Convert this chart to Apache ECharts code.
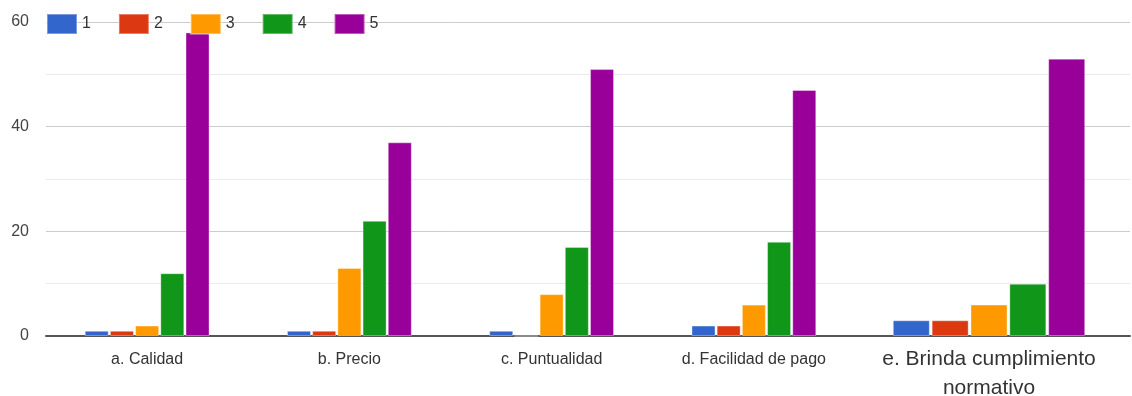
<!DOCTYPE html>
<html>
<head>
<meta charset="utf-8">
<script src="https://cdn.jsdelivr.net/npm/echarts@6/dist/echarts.min.js"></script>
<style>
  html, body { margin: 0; padding: 0; background: #fff; }
  #chart { width: 1132px; height: 396px; }
</style>
</head>
<body>
<div id="chart"></div>
<script>
// Survey ratings (1 = lowest, 5 = highest) for each supplier aspect
const categories = ['a. Calidad', 'b. Precio', 'c. Puntualidad', 'd. Facilidad de pago', 'e. Brinda cumplimiento normativo'];
const ratingNames = ['1', '2', '3', '4', '5'];
const rating1 = [1, 1, 1, 2, 3];
const rating2 = [1, 1, 0, 2, 3];
const rating3 = [2, 13, 8, 6, 6];
const rating4 = [12, 22, 17, 18, 10];
const rating5 = [58, 37, 51, 47, 53];
const yTicks = [0, 20, 40, 60];

const colors = ['#3366cc', '#dc3912', '#ff9900', '#109618', '#990099'];
const seriesValues = [rating1, rating2, rating3, rating4, rating5];
const font = 'Liberation Sans, Arial, sans-serif';

const chart = echarts.init(document.getElementById('chart'));

const yMax = yTicks[yTicks.length - 1];
const yStep = yTicks[1] - yTicks[0];

function yAxisFor(gridIndex, showLabels) {
  return {
    type: 'value', gridIndex: gridIndex, min: yTicks[0], max: yMax, interval: yStep,
    axisLine: { show: false }, axisTick: { show: false },
    axisLabel: { show: showLabels, margin: 17, fontSize: 16, color: '#444', fontFamily: font },
    splitLine: { show: true, lineStyle: { color: '#cccccc', width: 1 } },
    minorTick: { show: false, splitNumber: 2 },
    minorSplitLine: { show: true, lineStyle: { color: '#ebebeb', width: 1 } }
  };
}

const series = [];
seriesValues.forEach(function (vals, i) {
  // first four aspects share the left panel
  series.push({
    name: ratingNames[i], type: 'bar', xAxisIndex: 0, yAxisIndex: 0,
    data: vals.slice(0, 4), barWidth: 24, barGap: '5%',
    itemStyle: { color: colors[i], borderColor: 'rgba(255,255,255,0.35)', borderWidth: 1 }
  });
  // last aspect drawn in its own wider panel
  series.push({
    name: ratingNames[i], type: 'bar', xAxisIndex: 1, yAxisIndex: 1,
    data: vals.slice(4), barWidth: 37, barGap: '5%',
    itemStyle: { color: colors[i], borderColor: 'rgba(255,255,255,0.35)', borderWidth: 1 }
  });
});

chart.setOption({
  animation: false,
  color: colors,
  legend: {
    data: ratingNames, left: 41, top: 8, icon: 'rect',
    itemWidth: 30, itemHeight: 20, itemGap: 27,
    textStyle: { fontSize: 16, color: '#333', fontFamily: font }
  },
  grid: [
    { left: 46, top: 22, width: 809, height: 314, containLabel: false, outerBoundsMode: 'none' },
    { left: 848, top: 22, width: 282, height: 314, containLabel: false, outerBoundsMode: 'none' }
  ],
  xAxis: [
    {
      type: 'category', gridIndex: 0, data: categories.slice(0, 4),
      axisLine: { lineStyle: { color: '#555', width: 2 } },
      axisTick: { show: false },
      axisLabel: { margin: 16, fontSize: 16, color: '#333', fontFamily: font }
    },
    {
      type: 'category', gridIndex: 1, data: categories.slice(4),
      axisLine: { lineStyle: { color: '#555', width: 2 } },
      axisTick: { show: false },
      axisLabel: {
        margin: 9, fontSize: 21, lineHeight: 29, color: '#333', fontFamily: font,
        formatter: function (v) { return v.replace(' normativo', '\nnormativo'); }
      }
    }
  ],
  yAxis: [yAxisFor(0, true), yAxisFor(1, false)],
  series: series
});
</script>
</body>
</html>
